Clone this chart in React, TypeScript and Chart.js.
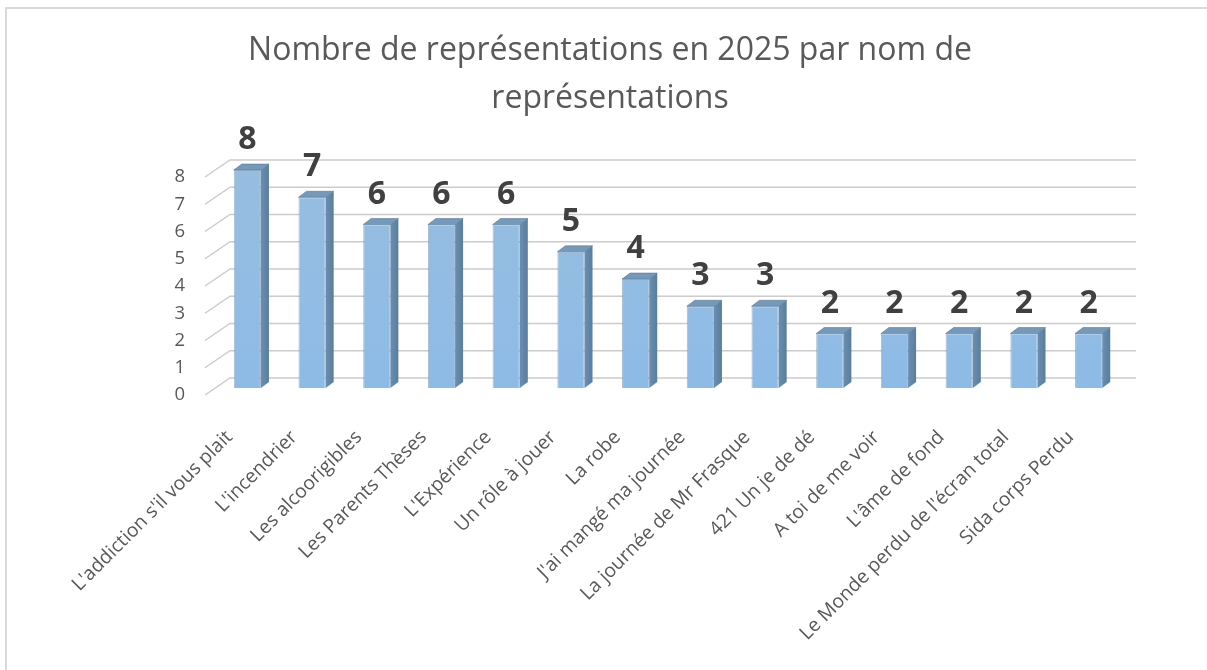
import React, { useEffect, useRef } from "react";
import { Chart, registerables } from "chart.js";

Chart.register(...registerables);

const categories = [
  "L'addiction s'il vous plait",
  "L'incendrier",
  "Les alcoorigibles",
  "Les Parents Thèses",
  "L'Expérience",
  "Un rôle à jouer",
  "La robe",
  "J'ai mangé ma journée",
  "La journée de Mr Frasque",
  "421 Un je de dé",
  "A toi de me voir",
  "L'âme de fond",
  "Le Monde perdu de l'écran total",
  "Sida corps Perdu",
];
const values = [8, 7, 6, 6, 6, 5, 4, 3, 3, 2, 2, 2, 2, 2];
const yMin = 0;
const yMax = 8;
const titleLines = ["Nombre de représentations en 2025 par nom de", "représentations"];

const FONT = "'Open Sans', 'Noto Sans', sans-serif";
const WALL_DX = 25;
const WALL_DY = 17;
const BAR_DX = 10;
const BAR_DY = 7;
const SIDE_DX = 8;
const SIDE_DY = 6;

const threeD = {
  id: "threeD",
  beforeDatasetsDraw(chart: any) {
    const { ctx, chartArea, scales } = chart;
    const { left, right } = chartArea;
    const y = scales.y;
    ctx.save();
    ctx.strokeStyle = "#cccccc";
    ctx.lineWidth = 1.5;
    for (let v = yMin; v <= yMax; v++) {
      const yy = y.getPixelForValue(v);
      ctx.beginPath();
      ctx.moveTo(left, yy);
      ctx.lineTo(left + WALL_DX, yy - WALL_DY);
      ctx.lineTo(right + WALL_DX, yy - WALL_DY);
      ctx.stroke();
    }
    ctx.restore();
    ctx.save();
    ctx.translate(BAR_DX, -BAR_DY);
  },
  afterDatasetsDraw(chart: any) {
    const { ctx } = chart;
    const meta = chart.getDatasetMeta(0);
    meta.data.forEach((bar: any) => {
      const hw = bar.width / 2;
      const x0 = bar.x - hw;
      const x1 = bar.x + hw;
      const top = bar.y;
      const base = bar.base;
      ctx.beginPath();
      ctx.moveTo(x1, base);
      ctx.lineTo(x1 + SIDE_DX, base - SIDE_DY);
      ctx.lineTo(x1 + SIDE_DX, top - SIDE_DY);
      ctx.lineTo(x1, top);
      ctx.closePath();
      const sg = ctx.createLinearGradient(x1, 0, x1 + SIDE_DX, 0);
      sg.addColorStop(0, "#6a8fb2");
      sg.addColorStop(1, "#5a7d9c");
      ctx.fillStyle = sg;
      ctx.fill();
      ctx.beginPath();
      ctx.moveTo(x0, top);
      ctx.lineTo(x0 + SIDE_DX, top - SIDE_DY);
      ctx.lineTo(x1 + SIDE_DX, top - SIDE_DY);
      ctx.lineTo(x1, top);
      ctx.closePath();
      ctx.fillStyle = "#7399bc";
      ctx.fill();
      ctx.strokeStyle = "rgba(70,105,140,0.6)";
      ctx.lineWidth = 0.8;
      ctx.stroke();
    });
    ctx.restore();
    ctx.save();
    ctx.fillStyle = "#404040";
    ctx.font = `bold 32px ${FONT}`;
    ctx.textAlign = "center";
    ctx.textBaseline = "alphabetic";
    meta.data.forEach((bar: any, i: number) => {
      ctx.fillText(String(values[i]), bar.x + BAR_DX, bar.y - BAR_DY - SIDE_DY - 15);
    });
    ctx.restore();
  },
};

export default function App() {
  const ref = useRef<HTMLCanvasElement>(null);
  useEffect(() => {
    const canvas = ref.current!;
    const chart = new Chart(canvas, {
      type: "bar",
      data: {
        labels: categories,
        datasets: [
          {
            data: values,
            backgroundColor: (c: any) => {
              const area = c.chart.chartArea;
              if (!area) return "#8fbae2";
              const g = c.chart.ctx.createLinearGradient(0, area.bottom, 0, area.top);
              g.addColorStop(0, "#8dbbe6");
              g.addColorStop(1, "#97bde0");
              return g;
            },
            borderColor: "rgba(90,130,170,0.55)",
            borderWidth: 1,
            barPercentage: 0.42,
            categoryPercentage: 1,
            clip: false as any,
          },
        ],
      },
      options: {
        responsive: false,
        animation: false,
        devicePixelRatio: 1,
        layout: { padding: { left: 109, right: 96, top: 0, bottom: 0 } },
        plugins: {
          legend: { display: false },
          tooltip: { enabled: false },
          title: {
            display: true,
            text: titleLines,
            color: "#595959",
            font: { family: FONT, size: 32, weight: "400" as any, lineHeight: 1.5 },
            padding: { top: 27, bottom: 54 },
          },
        },
        scales: {
          x: {
            grid: { display: false },
            border: { display: false },
            ticks: {
              autoSkip: false,
              maxRotation: 45,
              minRotation: 45,
              labelOffset: -8,
              padding: 23,
              color: "#595959",
              font: { family: FONT, size: 19.3 },
            },
            afterFit: (s: any) => {
              s.height = 275;
            },
          },
          y: {
            min: yMin,
            max: yMax,
            grid: { display: false },
            border: { display: false },
            ticks: {
              stepSize: 1,
              padding: 12,
              color: "#595959",
              font: { family: FONT, size: 18.5 },
            },
            afterFit: (s: any) => {
              s.width = 96;
            },
          },
        },
      },
      plugins: [threeD],
    });
    return () => chart.destroy();
  }, []);
  return (
    <div style={{ position: "fixed", left: 0, top: 0, width: 1207, height: 670, overflow: "hidden", background: "#fff" }}>
      <div
        style={{
          position: "absolute",
          left: 5,
          top: 7,
          width: 1400,
          height: 900,
          border: "2px solid #d9d9d9",
          boxSizing: "border-box",
        }}
      />
      <canvas ref={ref} width={1207} height={670} style={{ position: "absolute", left: 0, top: 0, width: 1207, height: 670 }} />
    </div>
  );
}
